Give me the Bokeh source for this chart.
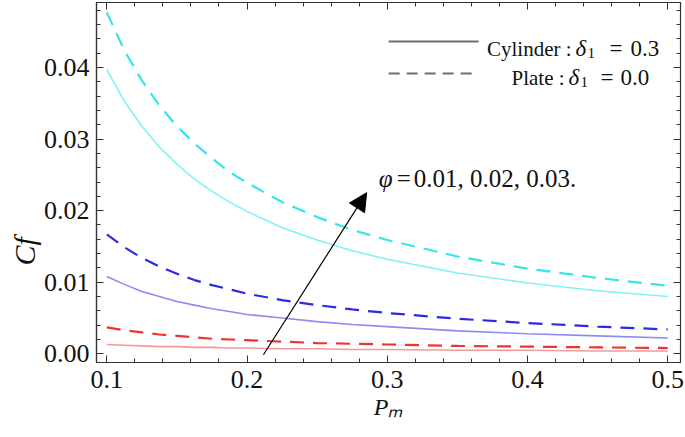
from bokeh.plotting import figure
from bokeh.models import (Label, Arrow, NormalHead, LinearAxis, SingleIntervalTicker,
                          NumeralTickFormatter, Range1d, Title, CustomJSTickFormatter)
from bokeh.embed import file_html
from bokeh.resources import INLINE

# ---------------- data ----------------
pm = [0.1, 0.1125, 0.125, 0.1375, 0.15, 0.1625, 0.175, 0.1875, 0.2, 0.225, 0.25,
      0.275, 0.3, 0.35, 0.4, 0.45, 0.5]
cyan_plate = [0.0477, 0.0424, 0.0382, 0.0347, 0.0318, 0.0294, 0.0273, 0.0254, 0.0239,
              0.0212, 0.0191, 0.0173, 0.0159, 0.0136, 0.0119, 0.0106, 0.0095]
cyan_cyl = [0.0397, 0.0353, 0.0318, 0.0289, 0.0265, 0.0244, 0.0227, 0.0212, 0.0199,
            0.0176, 0.0159, 0.0144, 0.0132, 0.0113, 0.0099, 0.0088, 0.0080]
blue_plate = [0.0167, 0.0149, 0.0134, 0.0122, 0.0112, 0.0103, 0.0096, 0.0090, 0.0084,
              0.0075, 0.0068, 0.0062, 0.0057, 0.0049, 0.0043, 0.0038, 0.0034]
blue_cyl = [0.0108, 0.0097, 0.0087, 0.0080, 0.0073, 0.0068, 0.0063, 0.0059, 0.0055,
            0.0050, 0.0045, 0.0041, 0.0038, 0.0032, 0.0028, 0.0025, 0.0022]
red_plate = [0.0037, 0.0033, 0.0030, 0.0027, 0.0025, 0.0023, 0.0021, 0.0020, 0.0019,
             0.0017, 0.0015, 0.0014, 0.0013, 0.0011, 0.0010, 0.0009, 0.0008]
red_cyl = [0.0013, 0.0012, 0.0011, 0.0010, 0.0010, 0.0009, 0.0009, 0.0008, 0.0008,
           0.0007, 0.0007, 0.0006, 0.0006, 0.0005, 0.0005, 0.0004, 0.0004]

x_ticks_interval = 0.1
y_ticks_interval = 0.01

# ---------------- layout helpers (reference pixel -> data) ----------------
def dx(px):
    return 0.1 + (px - 106.0) / 1403.0

def dy(py):
    return (353.0 - py) / 7150.0

SERIF = "Liberation Serif"
AXC = "#333333"
TXT = "#111111"

p = figure(width=685, height=437, output_backend="svg", toolbar_location=None,
           x_range=Range1d(dx(95.7), dx(680.0)), y_range=Range1d(dy(361.7), dy(2.0)),
           min_border_left=96, min_border_right=5, min_border_top=2, min_border_bottom=75)
p.grid.visible = False
p.outline_line_color = AXC
p.outline_line_width = 1.2
p.background_fill_color = "white"
p.border_fill_color = "white"

xt = SingleIntervalTicker(interval=x_ticks_interval, num_minor_ticks=5)
yt = SingleIntervalTicker(interval=y_ticks_interval, num_minor_ticks=5)

for ax, t, fmt in ((p.xaxis[0], xt, "0.0"), (p.yaxis[0], yt, "0.00")):
    ax.ticker = t
    ax.formatter = NumeralTickFormatter(format=fmt)
    ax.major_tick_in = 7
    ax.major_tick_out = 0
    ax.minor_tick_in = 4
    ax.minor_tick_out = 0
    ax.axis_line_color = AXC
    ax.major_tick_line_color = AXC
    ax.minor_tick_line_color = AXC
    ax.axis_line_width = 1.2
    ax.major_label_text_font = SERIF
    ax.major_label_text_font_size = "26px"
    ax.major_label_text_color = TXT
p.xaxis[0].major_label_standoff = 8
p.yaxis[0].major_label_standoff = 7

p.xaxis[0].axis_label = "Pₘ"
p.xaxis[0].axis_label_text_font = SERIF
p.xaxis[0].axis_label_text_font_style = "italic"
p.xaxis[0].axis_label_text_font_size = "24px"
p.xaxis[0].axis_label_text_color = TXT
p.xaxis[0].axis_label_standoff = 3

blank = CustomJSTickFormatter(code="return ''")
top = LinearAxis(ticker=SingleIntervalTicker(interval=x_ticks_interval, num_minor_ticks=5),
                 formatter=blank, major_label_text_font_size="1px", major_label_standoff=0,
                 major_tick_in=7, major_tick_out=0, minor_tick_in=4, minor_tick_out=0,
                 axis_line_color=AXC, major_tick_line_color=AXC, minor_tick_line_color=AXC)
right = LinearAxis(ticker=SingleIntervalTicker(interval=y_ticks_interval, num_minor_ticks=5),
                   formatter=blank, major_label_text_font_size="1px", major_label_standoff=0,
                   major_tick_in=7, major_tick_out=0, minor_tick_in=4, minor_tick_out=0,
                   axis_line_color=AXC, major_tick_line_color=AXC, minor_tick_line_color=AXC)
p.add_layout(top, "above")
p.add_layout(right, "right")

p.add_layout(Title(text="Cf", align="left", offset=97, standoff=0,
                   text_font=SERIF, text_font_style="italic", text_font_size="30px",
                   text_color=TXT), "left")

# ---------------- curves ----------------
DASH = "14 9"
p.line(pm, cyan_cyl, line_color="#7ff2f2", line_width=1.6)
p.line(pm, cyan_plate, line_color="#35e6e6", line_width=2.2, line_dash=DASH)
p.line(pm, blue_cyl, line_color="#8c8cf2", line_width=1.6)
p.line(pm, blue_plate, line_color="#2a2ae8", line_width=2.2, line_dash=DASH)
p.line(pm, red_cyl, line_color="#f39a9a", line_width=1.6)
p.line(pm, red_plate, line_color="#ee3333", line_width=2.2, line_dash=DASH)

# ---------------- arrow ----------------
p.add_layout(Arrow(end=NormalHead(size=18, fill_color="black", line_color="black"),
                   x_start=dx(262.7), y_start=dy(354.0), x_end=dx(366.0), y_end=dy(192.0),
                   line_color="black", line_width=1.2))

def lab(px, py, text, size="21px", style="normal", align="left"):
    p.add_layout(Label(x=dx(px), y=dy(py), text=text, text_font=SERIF, text_font_size=size,
                       text_font_style=style, text_align=align, text_baseline="alphabetic",
                       text_color=TXT))

lab(378, 178, "φ", size="25px", style="italic")
lab(396, 178, "=", size="25px")
lab(413, 178, "0.01, 0.02, 0.03.", size="25px")

# ---------------- legend ----------------
p.line([dx(388), dx(478)], [dy(41), dy(41)], line_color="#6e6e6e", line_width=2)
p.line([dx(388), dx(478)], [dy(73), dy(73)], line_color="#6e6e6e", line_width=2, line_dash="11 7")

lab(571, 48, "Cylinder :", align="right")
lab(575, 48, "δ", style="italic", size="23px")
lab(587, 52, "1", size="15px")
lab(609, 48, "=", size="23px")
lab(630, 48, "0.3", size="23px")

lab(564, 77, "Plate :", align="right")
lab(568, 77, "δ", style="italic", size="23px")
lab(580, 81, "1", size="15px")
lab(600, 77, "=", size="23px")
lab(620, 77, "0.0", size="23px")

open("out.html", "w").write(file_html(p, INLINE))
